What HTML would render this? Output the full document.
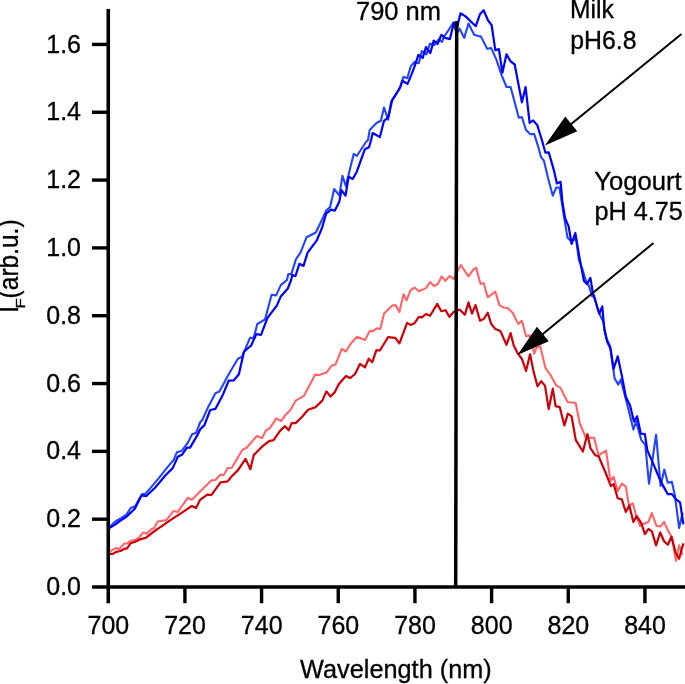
<!DOCTYPE html>
<html><head><meta charset="utf-8"><title>Fluorescence spectra</title>
<style>
html,body{margin:0;padding:0;background:#fff;}
body{width:685px;height:684px;overflow:hidden;position:relative;font-family:"Liberation Sans",sans-serif;}
svg{position:absolute;left:0;top:0;display:block;will-change:transform;}
text{font-family:"Liberation Sans",sans-serif;fill:#000;stroke:#000;stroke-width:0.3px;}
</style></head><body>
<svg width="685" height="684" viewBox="0 0 685 684">
<rect width="685" height="684" fill="#fff"/>

<polyline points="108.6,552.2 115.4,548.3 119.4,548.9 124.2,543.6 127.6,543.2 130.7,540.8 135.2,540.1 138.9,537.7 143.0,532.6 146.7,533.6 151.2,529.5 154.2,527.9 157.7,521.5 166.3,520.1 173.5,511.1 177.6,512.1 187.8,497.8 191.9,499.8 201.1,490.6 211.3,480.4 215.4,480.0 220.6,474.6 223.6,475.3 227.7,468.1 231.8,467.7 242.5,449.7 246.6,447.7 256.8,436.0 262.0,438.1 266.1,430.3 270.1,427.8 276.3,418.4 281.0,421.1 285.5,414.9 290.6,409.8 295.7,400.6 303.9,395.9 310.1,384.2 315.2,374.6 319.3,375.0 326.4,372.6 331.5,365.8 335.6,364.4 341.8,348.8 345.9,351.5 351.0,343.3 357.1,336.8 365.0,339.9 369.7,331.1 372.7,331.1 376.8,328.4 380.3,329.0 384.0,313.7 392.2,305.5 395.7,305.1 399.4,312.0 403.5,294.2 406.5,300.4 410.6,290.1 414.7,287.5 418.8,291.2 426.0,288.1 430.1,282.0 434.2,286.1 437.8,284.0 441.7,276.4 445.4,280.9 449.5,275.8 453.6,278.9 460.8,265.0 468.5,276.4 472.6,270.3 476.1,267.6 480.5,284.0 483.6,283.0 487.7,297.3 495.3,291.6 499.4,305.1 503.5,307.5 507.5,308.0 512.7,312.7 518.2,323.9 521.9,320.8 526.0,336.2 530.1,335.2 534.2,353.6 536.6,347.5 540.3,346.4 545.4,367.9 550.5,375.1 556.3,385.6 560.4,387.6 567.5,402.0 575.7,403.0 579.8,423.5 585.9,437.8 594.1,437.8 598.6,455.4 606.0,450.6 610.5,480.9 613.6,476.8 617.7,491.2 621.8,483.6 625.8,486.7 628.9,505.5 633.0,503.5 636.1,515.7 640.2,526.0 643.2,523.9 648.4,521.9 651.8,513.1 656.5,526.0 660.6,526.4 664.1,521.9 667.8,530.1 671.9,537.2 676.0,560.8 679.1,545.4 682.5,555.0" fill="none" stroke="#ff6468" stroke-width="2.1" stroke-linejoin="round" stroke-linecap="butt"/>
<polyline points="108.6,553.5 112.3,554.1 116.4,551.8 120.5,551.0 124.2,548.9 127.0,548.3 130.7,543.2 135.2,541.8 140.9,539.1 146.1,537.7 151.2,533.6 155.3,530.5 161.4,526.4 170.4,520.1 182.7,512.1 191.9,506.0 196.0,508.0 200.1,499.8 207.3,494.7 211.3,495.1 220.6,482.4 227.7,481.4 231.8,476.3 238.0,470.1 245.6,458.9 250.3,469.2 253.8,454.9 262.0,446.7 269.1,441.1 273.6,440.1 280.4,430.3 285.1,426.2 288.6,430.3 291.6,423.1 295.7,423.1 301.9,417.0 308.0,409.8 315.2,407.4 322.3,400.6 326.4,391.4 330.5,396.5 334.6,392.4 338.7,384.2 345.9,376.1 350.0,378.1 355.1,374.0 360.0,363.8 365.0,367.3 368.7,358.7 372.3,362.2 376.4,350.1 379.9,350.5 388.1,337.2 395.3,337.8 399.4,343.4 407.1,322.9 410.6,324.9 414.7,322.9 418.8,316.8 421.9,317.4 426.0,314.1 430.1,315.7 437.2,303.9 441.3,311.2 445.4,310.2 449.5,316.8 453.6,312.0 459.7,309.6 464.9,314.7 468.5,302.4 472.0,313.7 475.5,305.1 480.0,320.8 484.0,318.8 487.7,312.7 491.2,323.9 495.3,329.0 500.4,331.1 506.5,344.8 510.6,333.1 513.7,345.4 517.8,353.6 521.9,358.7 526.0,371.0 530.1,354.2 533.4,370.9 537.5,386.3 541.2,381.2 545.0,385.6 548.7,409.1 552.8,388.7 555.6,406.1 559.7,407.1 564.4,425.5 567.9,413.6 571.6,416.3 575.7,439.8 582.9,451.5 587.4,434.1 590.4,448.0 595.1,455.2 598.6,456.2 606.4,474.8 610.9,486.1 613.6,484.0 617.7,498.3 621.8,499.4 625.8,512.0 629.3,505.5 633.4,521.9 636.7,516.1 641.2,522.9 644.9,534.2 648.4,529.0 651.8,531.1 656.1,545.4 660.2,532.5 664.1,541.3 667.8,544.8 671.5,536.8 675.6,552.6 679.1,558.7 683.4,543.4" fill="none" stroke="#cc0008" stroke-width="2.2" stroke-linejoin="round" stroke-linecap="butt"/>
<polyline points="108.6,528.1 115.4,521.5 120.5,518.5 126.6,514.4 130.7,508.0 135.2,506.2 142.0,494.1 145.0,494.1 151.2,487.1 159.4,477.3 167.5,467.1 173.7,459.9 176.8,452.3 181.9,450.7 188.0,442.5 192.1,434.3 196.2,432.7 200.3,422.0 202.3,420.0 208.2,406.9 215.4,393.2 219.4,391.5 228.7,374.2 237.9,358.8 242.0,356.8 250.1,337.7 253.6,338.3 257.3,324.0 265.1,319.3 271.6,294.7 276.1,295.4 280.8,285.1 287.0,280.0 288.2,274.1 291.3,274.1 296.0,259.1 300.5,252.6 306.6,237.2 315.8,232.5 320.9,221.9 326.1,210.6 330.1,207.1 334.2,189.1 339.4,195.3 342.4,175.8 345.9,186.1 350.6,166.6 353.7,153.9 356.8,156.0 366.0,142.0 368.0,140.0 369.7,130.0 376.8,122.8 380.9,120.8 384.0,107.5 388.1,119.7 391.2,101.3 399.4,89.0 403.5,76.8 407.3,78.2 410.6,66.7 414.5,62.0 418.8,63.2 421.9,51.0 426.4,54.4 429.9,43.6 434.2,45.2 438.7,39.5 442.1,41.8 443.8,36.8 447.5,31.7 453.4,22.5 456.7,33.8 459.7,28.7 464.2,37.9 468.5,23.5 474.1,34.8 480.0,36.4 480.9,36.4 487.1,48.7 491.2,48.1 496.3,59.4 501.4,74.7 506.5,87.0 510.6,87.0 514.7,102.3 518.8,117.7 521.9,117.1 526.0,130.0 530.1,134.1 534.2,134.1 537.9,145.6 540.9,156.8 544.0,160.9 548.1,178.3 552.8,195.7 556.3,187.5 559.4,187.5 561.4,199.8 563.9,216.2 567.5,237.7 570.6,240.8 576.1,239.0 578.8,259.4 582.9,270.7 585.9,280.9 589.0,286.1 592.1,296.3 594.1,295.3 597.2,307.5 600.3,315.7 603.3,321.9 606.4,338.2 610.1,346.4 614.6,378.4 618.3,384.6 620.7,379.4 625.8,398.9 629.9,415.3 633.4,429.6 636.1,421.4 641.2,439.8 645.3,444.9 649.0,483.8 656.1,434.7 660.6,485.9 664.3,469.5 667.8,482.8 671.9,481.8 675.0,496.1 679.1,528.0 682.7,512.7" fill="none" stroke="#2244ff" stroke-width="2.1" stroke-linejoin="round" stroke-linecap="butt"/>
<polyline points="108.6,528.5 115.4,524.4 120.5,520.7 126.6,516.6 134.8,508.8 141.5,495.5 146.1,496.1 155.3,487.5 165.5,475.3 172.7,468.1 177.8,456.8 181.9,454.8 187.0,447.6 190.1,447.6 197.2,435.4 200.3,429.2 204.4,425.1 206.4,420.0 210.2,410.0 215.4,408.9 222.5,395.6 228.7,380.7 233.8,380.3 238.9,374.2 244.0,351.6 251.2,345.5 256.3,334.2 261.0,334.9 267.5,317.9 276.8,305.6 280.8,296.4 288.0,288.2 291.1,280.0 292.3,275.1 295.4,276.1 299.4,263.8 303.5,265.9 307.6,252.6 316.8,240.3 322.0,228.0 326.1,213.7 331.2,209.6 334.9,210.6 339.4,201.4 341.4,190.1 345.5,195.7 348.6,176.8 352.7,178.9 356.8,171.7 364.9,149.2 369.0,147.2 371.1,140.0 372.7,133.0 379.9,137.1 384.0,120.8 388.1,117.7 392.2,100.3 400.4,87.0 402.4,80.8 407.5,83.9 411.4,74.9 414.5,66.7 418.4,54.9 422.7,57.9 426.0,47.1 430.3,53.2 433.7,40.5 437.6,44.0 441.3,34.8 445.2,37.9 449.9,39.1 453.9,22.5 456.4,30.7 460.5,13.3 465.6,16.4 475.8,26.2 479.9,14.3 483.6,10.2 488.1,20.5 491.6,25.0 495.3,50.1 498.9,49.1 502.4,72.7 506.5,54.2 510.6,61.4 514.7,64.5 518.8,86.0 521.9,102.3 525.6,87.0 529.6,122.8 533.1,120.4 537.2,124.9 542.0,140.5 545.4,152.7 548.7,152.3 553.6,169.1 556.9,183.5 560.6,181.8 562.4,201.9 565.1,218.2 568.6,226.4 571.6,243.8 575.3,233.0 579.8,259.4 583.9,280.9 587.0,284.0 590.4,277.9 593.1,294.2 596.2,303.5 599.2,313.7 602.3,306.5 604.4,330.1 607.4,342.3 610.5,348.5 613.6,368.9 617.7,356.3 621.8,375.4 625.8,396.8 629.9,405.0 634.0,421.4 637.1,416.3 640.8,433.7 644.9,434.1 647.3,450.1 653.5,464.4 659.6,478.7 663.7,486.9 667.8,494.1 671.9,494.1 676.0,499.4 680.1,502.4 683.4,524.3" fill="none" stroke="#0000ff" stroke-width="2.2" stroke-linejoin="round" stroke-linecap="butt"/>

<g stroke="#000" stroke-width="3.6" fill="none" stroke-linecap="butt">
<line x1="108.25" y1="9" x2="108.25" y2="603.2"/>
<line x1="92" y1="587.0" x2="685" y2="587.0"/>
</g>
<g stroke="#000" stroke-width="3.4" fill="none">
<line x1="92" y1="519.18" x2="108.25" y2="519.18"/>
<line x1="92" y1="451.36" x2="108.25" y2="451.36"/>
<line x1="92" y1="383.54" x2="108.25" y2="383.54"/>
<line x1="92" y1="315.72" x2="108.25" y2="315.72"/>
<line x1="92" y1="247.90" x2="108.25" y2="247.90"/>
<line x1="92" y1="180.08" x2="108.25" y2="180.08"/>
<line x1="92" y1="112.26" x2="108.25" y2="112.26"/>
<line x1="92" y1="44.44" x2="108.25" y2="44.44"/>
<line x1="184.92" y1="587.0" x2="184.92" y2="603.2"/>
<line x1="261.59" y1="587.0" x2="261.59" y2="603.2"/>
<line x1="338.26" y1="587.0" x2="338.26" y2="603.2"/>
<line x1="414.93" y1="587.0" x2="414.93" y2="603.2"/>
<line x1="491.60" y1="587.0" x2="491.60" y2="603.2"/>
<line x1="568.27" y1="587.0" x2="568.27" y2="603.2"/>
<line x1="644.94" y1="587.0" x2="644.94" y2="603.2"/>
</g>
<text transform="translate(81.00,595.10) scale(1.02,1.065)" font-size="24.5" text-anchor="end">0.0</text>
<text transform="translate(81.00,527.28) scale(1.02,1.065)" font-size="24.5" text-anchor="end">0.2</text>
<text transform="translate(81.00,459.46) scale(1.02,1.065)" font-size="24.5" text-anchor="end">0.4</text>
<text transform="translate(81.00,391.64) scale(1.02,1.065)" font-size="24.5" text-anchor="end">0.6</text>
<text transform="translate(81.00,323.82) scale(1.02,1.065)" font-size="24.5" text-anchor="end">0.8</text>
<text transform="translate(81.00,256.00) scale(1.02,1.065)" font-size="24.5" text-anchor="end">1.0</text>
<text transform="translate(81.00,188.18) scale(1.02,1.065)" font-size="24.5" text-anchor="end">1.2</text>
<text transform="translate(81.00,120.36) scale(1.02,1.065)" font-size="24.5" text-anchor="end">1.4</text>
<text transform="translate(81.00,52.54) scale(1.02,1.065)" font-size="24.5" text-anchor="end">1.6</text>
<text transform="translate(108.35,633.90) scale(1.02,1.055)" font-size="24.5" text-anchor="middle">700</text>
<text transform="translate(185.02,633.90) scale(1.02,1.055)" font-size="24.5" text-anchor="middle">720</text>
<text transform="translate(261.69,633.90) scale(1.02,1.055)" font-size="24.5" text-anchor="middle">740</text>
<text transform="translate(338.36,633.90) scale(1.02,1.055)" font-size="24.5" text-anchor="middle">760</text>
<text transform="translate(415.03,633.90) scale(1.02,1.055)" font-size="24.5" text-anchor="middle">780</text>
<text transform="translate(491.70,633.90) scale(1.02,1.055)" font-size="24.5" text-anchor="middle">800</text>
<text transform="translate(568.37,633.90) scale(1.02,1.055)" font-size="24.5" text-anchor="middle">820</text>
<text transform="translate(645.04,633.90) scale(1.02,1.055)" font-size="24.5" text-anchor="middle">840</text>
<text transform="translate(395.90,677.95) scale(1.033,1.02)" font-size="24.5" text-anchor="middle">Wavelength (nm)</text>
<text transform="translate(17.6,313.0) rotate(-90) scale(1.04,1.1)" font-size="24.5">I</text>
<text transform="translate(25.2,308.4) rotate(-90) scale(1.38,1.1)" font-size="12">F</text>
<text transform="translate(17.6,298.4) rotate(-90) scale(1.0,1.1)" font-size="24.5">(arb.u.)</text>
<text transform="translate(356.00,20.40) scale(1.04,1.058)" font-size="24.5" text-anchor="start">790 nm</text>
<text transform="translate(569.90,18.20) scale(1.007,1.02)" font-size="24.5" text-anchor="start">Milk</text>
<text transform="translate(570.30,48.90) scale(1.013,1.015)" font-size="24.5" text-anchor="start">pH6.8</text>
<text transform="translate(594.20,189.50) scale(1.048,1.05)" font-size="24.5" text-anchor="start">Yogourt</text>
<text transform="translate(594.40,220.10) scale(1.03,1.02)" font-size="24.5" text-anchor="start">pH 4.75</text>
<line x1="456.7" y1="21" x2="455.7" y2="587.0" stroke="#000" stroke-width="3.5"/>
<line x1="681.5" y1="33.9" x2="569.69" y2="125.17" stroke="#000" stroke-width="2.0"/><polygon points="544.9,145.4 565.23,116.54 577.25,131.26" fill="#000"/>
<line x1="653.5" y1="243" x2="541.35" y2="335.21" stroke="#000" stroke-width="2.0"/><polygon points="517.4,354.9 536.98,326.76 548.80,341.13" fill="#000"/>
</svg></body></html>
